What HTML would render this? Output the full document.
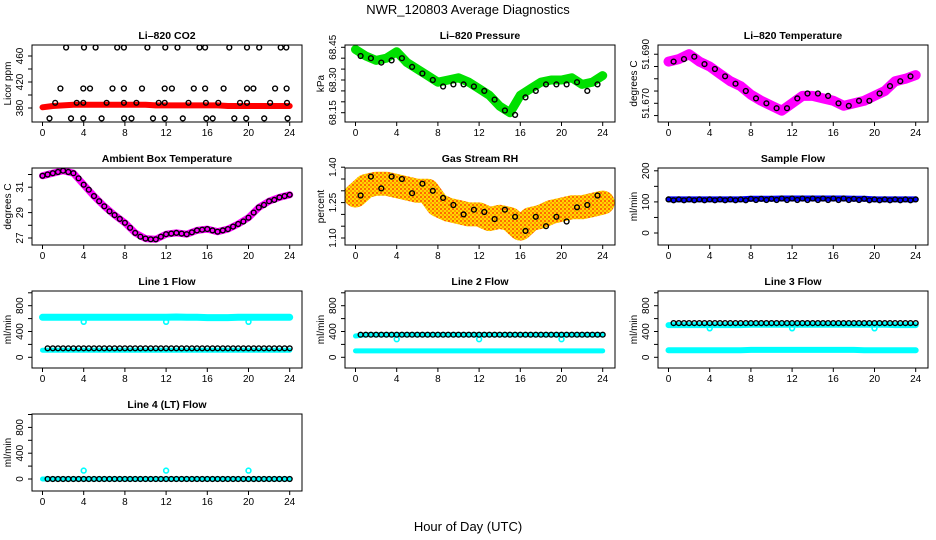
<!DOCTYPE html>
<html><head><meta charset="utf-8"><style>
html,body{margin:0;padding:0;background:#fff;}
svg{display:block;font-family:"Liberation Sans",sans-serif;}
</style></head><body>
<svg id="chart" width="936" height="540" viewBox="0 0 936 540">
<defs>
<pattern id="rhpat" width="4" height="4" patternUnits="userSpaceOnUse">
<rect width="4" height="4" fill="#ffd700"/><rect x="0" y="0" width="2" height="2" fill="#ff6a00"/><rect x="2" y="2" width="2" height="2" fill="#ff9a00"/>
</pattern>
</defs>
<text x="468" y="14" text-anchor="middle" font-size="13">NWR_120803  Average Diagnostics</text>
<text x="468" y="531" text-anchor="middle" font-size="13">Hour of Day (UTC)</text>
<g id="plots"></g>
</svg>
<script>
const H25=[0,1,2,3,4,5,6,7,8,9,10,11,12,13,14,15,16,17,18,19,20,21,22,23,24];
const H24=[0.5,1.5,2.5,3.5,4.5,5.5,6.5,7.5,8.5,9.5,10.5,11.5,12.5,13.5,14.5,15.5,16.5,17.5,18.5,19.5,20.5,21.5,22.5,23.5];
const xTicks=[0,4,8,12,16,20,24];
// CO2
const co2Red=[381,383,384,385,385,385,385,385,385,385,385,384,384,384,384,384,384,384,383,383,383,383,383,383,383];
const co2Hours=[2.29,4.03,5.16,7.25,7.9,10.18,11.92,13.11,15.24,15.79,18.14,19.85,21.04,23.13,23.67,1.74,3.96,4.61,6.8,7.9,9.66,11.86,12.56,14.69,15.79,17.58,19.85,20.48,22.58,23.7,1.23,3.32,3.96,6.22,7.9,9.12,11.28,11.86,14.17,15.86,17.07,19.17,19.85,22.1,23.74,0.68,2.77,3.96,5.74,7.92,8.64,10.73,11.86,13.62,15.9,16.52,18.62,19.78,21.52,23.8];
const co2Vals=[473,473,473,473,473,473,473,473,473,473,473,473,473,473,473,410,410,410,410,410,410,410,410,410,410,410,410,410,410,410,388,388,388,388,388,388,388,388,388,388,388,388,388,388,388,364,364,364,364,364,364,364,364,364,364,364,364,364,364,364];
// Pressure
const presGreen=[68.44,68.41,68.39,68.40,68.43,68.38,68.35,68.32,68.29,68.30,68.31,68.29,68.26,68.23,68.18,68.15,68.23,68.26,68.29,68.30,68.30,68.31,68.28,68.29,68.32];
const presBlack=[68.41,68.40,68.38,68.39,68.40,68.36,68.33,68.30,68.27,68.28,68.28,68.27,68.25,68.21,68.16,68.14,68.22,68.25,68.28,68.28,68.28,68.29,68.25,68.28];
// Li-820 temperature
const tempMag=[51.687,51.688,51.690,51.687,51.685,51.682,51.679,51.677,51.6735,51.671,51.669,51.667,51.670,51.673,51.673,51.672,51.671,51.669,51.670,51.671,51.673,51.675,51.679,51.680,51.6815];
const tempBlack=[51.687,51.688,51.689,51.686,51.684,51.681,51.678,51.675,51.672,51.670,51.668,51.668,51.672,51.674,51.674,51.673,51.670,51.669,51.671,51.671,51.674,51.677,51.679,51.681];
// Ambient
const ambMag=[31.9,32.1,32.3,32.1,31.2,30.3,29.5,28.8,28.2,27.4,26.95,26.9,27.3,27.4,27.3,27.6,27.7,27.5,27.7,28.1,28.6,29.4,29.9,30.2,30.4];
const ambBlack=[32.0,32.2,32.2,31.7,30.8,29.9,29.1,28.5,27.8,27.1,26.9,27.1,27.35,27.35,27.45,27.65,27.6,27.6,27.9,28.3,29.0,29.6,30.0,30.3];
// RH
const rhCenter=[1.28,1.32,1.33,1.33,1.32,1.31,1.30,1.30,1.24,1.22,1.21,1.20,1.20,1.18,1.19,1.18,1.14,1.18,1.19,1.21,1.22,1.23,1.23,1.24,1.25];
const rhBlack=[1.28,1.36,1.31,1.36,1.35,1.29,1.33,1.30,1.27,1.24,1.20,1.22,1.21,1.18,1.22,1.19,1.13,1.19,1.15,1.19,1.17,1.23,1.24,1.28];
// Sample flow
const sampleBlue=[108,108,108,108,108,108,108,108,110,110,110,111,111,111,111,111,111,111,110,110,108,108,108,108,108];
const sampleBlack=[105,105,105,105,105,105,105,105,106,106,106,106,106,106,106,106,106,106,106,105,105,105,105,105];
// Line flows
const dipHours=[4,12,20];
const l1Upper=[620,620,620,620,620,620,620,620,620,620,620,620,620,625,620,620,615,615,615,620,620,620,620,620,620];
const l1Lower=[110,110,110,110,110,110,110,110,110,110,110,110,110,110,110,110,110,110,110,110,110,110,110,110,110];
const l1Black=[140,140,140,140,140,140,140,140,140,140,140,140,140,140,140,140,140,140,140,140,140,140,140,140];
const l1Dips=[550,550,550];
const l2Upper=[330,350,350,350,350,350,350,350,350,350,350,350,350,350,350,350,350,350,350,350,350,350,350,350,350];
const l2Lower=[100,100,100,100,100,100,100,100,100,100,100,100,100,100,100,100,100,100,100,100,100,100,100,100,100];
const l2Black=[350,350,350,350,350,350,350,350,350,350,350,350,350,350,350,350,350,350,350,350,350,350,350,350];
const l2Dips=[280,280,280];
const l3Upper=[500,500,500,500,500,500,500,500,505,505,505,505,505,505,505,505,505,505,505,505,505,505,500,500,500];
const l3Lower=[110,110,110,110,110,110,110,110,115,115,115,115,115,115,115,115,115,115,115,110,110,110,110,110,110];
const l3Black=[530,530,530,530,530,530,530,530,530,530,530,530,530,530,530,530,530,530,530,530,530,530,530,530];
const l3Dips=[450,450,450];
const l4Cyan=[0,0,0,0,0,0,0,0,0,0,0,0,0,0,0,0,0,0,0,0,0,0,0,0,0];
const l4Black=[0,0,0,0,0,0,0,0,0,0,0,0,0,0,0,0,0,0,0,0,0,0,0,0];
const l4Dips=[130,130,130];

const NS='http://www.w3.org/2000/svg';
const root=document.getElementById('plots');
function mk(tag,attrs,parent){const e=document.createElementNS(NS,tag);for(const k in attrs)e.setAttribute(k,attrs[k]);(parent||root).appendChild(e);return e;}

const flowTicks=[0,200,400,600,800,1000];
const panels=[
 {key:'co2',title:'Li\u2013820 CO2',c:0,r:0,ylab:'Licor ppm',off:63,v0:380,k:0.65,ticks:[380,400,420,440,460],labels:[380,420,460],dec:0,
  layers:[{t:'band',h:H25,v:co2Red,color:'#ff0000',w:6},{t:'pts',h:co2Hours,v:co2Vals,color:'#000'}]},
 {key:'pressure',title:'Li\u2013820 Pressure',c:1,r:0,ylab:'kPa',off:67.7,v0:68.15,k:218,ticks:[68.15,68.20,68.25,68.30,68.35,68.40,68.45],labels:[68.15,68.30,68.45],dec:2,
  layers:[{t:'band',h:H25,v:presGreen,color:'#00e000',w:9},{t:'pts',h:H24,v:presBlack,color:'#000'}]},
 {key:'temperature',title:'Li\u2013820 Temperature',c:2,r:0,ylab:'degrees C',off:58.3,v0:51.670,k:2453,ticks:[51.665,51.670,51.675,51.680,51.685,51.690],labels:[51.670,51.690],dec:3,
  layers:[{t:'band',h:H25,v:tempMag,color:'#ff00ff',w:10},{t:'pts',h:H24,v:tempBlack,color:'#000'}]},
 {key:'ambient',title:'Ambient Box Temperature',c:0,r:1,ylab:'degrees C',off:70,v0:27,k:12.7,ticks:[27,28,29,30,31,32],labels:[27,29,31],dec:0,
  layers:[{t:'band',h:H25,v:ambMag,color:'#ff00ff',w:7},{t:'pts',h:H25,v:ambMag,color:'#000'},{t:'pts',h:H24,v:ambBlack,color:'#000'}]},
 {key:'rh',title:'Gas Stream RH',c:1,r:1,ylab:'percent',off:70,v0:1.10,k:236,ticks:[1.10,1.15,1.20,1.25,1.30,1.35,1.40],labels:[1.10,1.25,1.40],dec:2,
  layers:[{t:'band',h:H25,v:rhCenter,color:'url(#rhpat)',w:24},{t:'pts',h:H24,v:rhBlack,color:'#000'}]},
 {key:'sample-flow',title:'Sample Flow',c:2,r:1,ylab:'ml/min',off:65,v0:0,k:0.311,ticks:[0,50,100,150,200],labels:[0,100,200],dec:0,
  layers:[{t:'band',h:H25,v:sampleBlue,color:'#0000ff',w:6},{t:'pts',h:H25,v:sampleBlue,color:'#000'},{t:'pts',h:H24,v:sampleBlack,color:'#000'}]},
 {key:'line1',title:'Line 1 Flow',c:0,r:2,ylab:'ml/min',off:66.3,v0:0,k:0.0645,ticks:flowTicks,labels:[0,400,800],dec:0,
  layers:[{t:'band',h:H25,v:l1Upper,color:'#00ffff',w:7},{t:'band',h:H25,v:l1Lower,color:'#00ffff',w:5},{t:'pts',h:dipHours,v:l1Dips,color:'#00ffff',lw:1.6},{t:'pts',h:H25.slice(1),v:l1Black,color:'#000'},{t:'pts',h:H24,v:l1Black,color:'#000'}]},
 {key:'line2',title:'Line 2 Flow',c:1,r:2,ylab:'ml/min',off:66.3,v0:0,k:0.0645,ticks:flowTicks,labels:[0,400,800],dec:0,
  layers:[{t:'band',h:H25,v:l2Upper,color:'#00ffff',w:5},{t:'band',h:H25,v:l2Lower,color:'#00ffff',w:5},{t:'pts',h:dipHours,v:l2Dips,color:'#00ffff',lw:1.6},{t:'pts',h:H25.slice(1),v:l2Black,color:'#000'},{t:'pts',h:H24,v:l2Black,color:'#000'}]},
 {key:'line3',title:'Line 3 Flow',c:2,r:2,ylab:'ml/min',off:66.3,v0:0,k:0.0645,ticks:flowTicks,labels:[0,400,800],dec:0,
  layers:[{t:'band',h:H25,v:l3Upper,color:'#00ffff',w:6},{t:'band',h:H25,v:l3Lower,color:'#00ffff',w:6},{t:'pts',h:dipHours,v:l3Dips,color:'#00ffff',lw:1.6},{t:'pts',h:H25.slice(1),v:l3Black,color:'#000'},{t:'pts',h:H24,v:l3Black,color:'#000'}]},
 {key:'line4',title:'Line 4 (LT) Flow',c:0,r:3,ylab:'ml/min',off:65,v0:0,k:0.0645,ticks:flowTicks,labels:[0,400,800],dec:0,
  layers:[{t:'band',h:H25,v:l4Cyan,color:'#00ffff',w:5},{t:'pts',h:dipHours,v:l4Dips,color:'#00ffff',lw:1.6},{t:'pts',h:H25.slice(1),v:l4Black,color:'#000'},{t:'pts',h:H24,v:l4Black,color:'#000'}]}
];

panels.forEach(p=>{
  const x0=42.5+313*p.c, sx=10.3;
  const top=45+123*p.r, h=77;
  const left=x0-10.5, width=270;
  const X=hh=>x0+hh*sx;
  const Y=v=>top+p.off-(v-p.v0)*p.k;
  const g=mk('g',{});
  
  
  const clip=mk('clipPath',{id:'clip-'+p.key},g);
  mk('rect',{x:left,y:top,width:width,height:h},clip);
  const t=mk('text',{x:left+width/2,y:top-6,'text-anchor':'middle','font-size':'10.5','font-weight':'bold'},g);
  t.textContent=p.title;
  
  
  const data=mk('g',{'clip-path':'url(#clip-'+p.key+')'},g);
  p.layers.forEach(L=>{
    if(L.t==='band'){
      const pts=L.h.map((hh,i)=>X(hh).toFixed(1)+','+Y(L.v[i]).toFixed(1)).join(' ');
      const pl=mk('polyline',{points:pts,fill:'none',stroke:L.color,'stroke-width':L.w,'stroke-linejoin':'round','stroke-linecap':'round'},data);
      
      
    } else {
      L.h.forEach((hh,i)=>{
        const c=mk('circle',{cx:X(hh).toFixed(1),cy:Y(L.v[i]).toFixed(1),r:2.4,fill:'none',stroke:L.color,'stroke-width':L.lw||1.4},data);
        
        
      });
    }
  });
  const box=mk('rect',{x:left,y:top,width:width,height:h,fill:'none',stroke:'#000','stroke-width':1},g);
  
  
  xTicks.forEach(tv=>{
    mk('line',{x1:X(tv),x2:X(tv),y1:top+h,y2:top+h+4,stroke:'#000'},g);
    const lt=mk('text',{x:X(tv),y:top+h+14,'text-anchor':'middle','font-size':'10'},g);
    lt.textContent=tv;
    
    
  });
  p.ticks.forEach(tv=>{
    const yy=Y(tv); if(yy<top-1||yy>top+h+1) return;
    mk('line',{x1:left-4,x2:left,y1:yy,y2:yy,stroke:'#000'},g);
  });
  p.labels.forEach(tv=>{
    const yy=Y(tv);
    const lt=mk('text',{x:left-9,y:yy,'text-anchor':'middle','font-size':'10',transform:'rotate(-90 '+(left-9)+' '+yy+')'},g);
    lt.textContent=tv.toFixed(p.dec);
    
    
  });
  const ymid=top+h/2;
  const yl=mk('text',{x:left-21,y:ymid,'text-anchor':'middle','font-size':'10',transform:'rotate(-90 '+(left-21)+' '+ymid+')'},g);
  yl.textContent=p.ylab;
  
  
});
</script>
</body></html>
